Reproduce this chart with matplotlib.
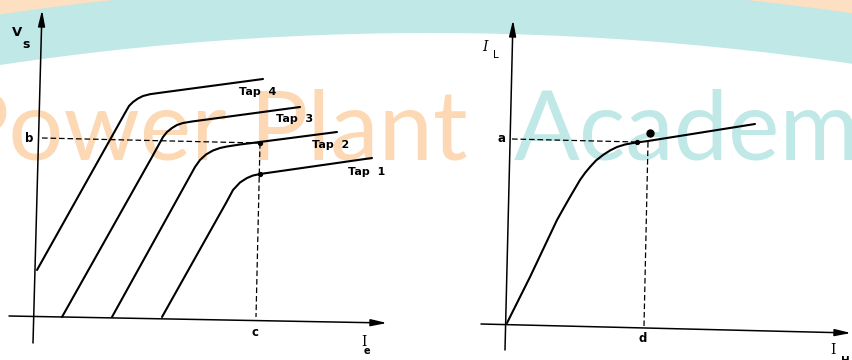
import matplotlib
matplotlib.use("Agg")
import matplotlib.pyplot as plt
from matplotlib.patches import Circle, Rectangle

# ---------------- data (units: 1 unit = 10 px of the original drawing) ----------------
# Left panel: secondary voltage V_s vs excitation current I_e, one curve per tap
tap4_ie = [0.1, 8.9, 9.3, 9.7, 10.2, 10.7, 11.4, 12.4, 22.7]
tap4_vs = [4.7, 20.4, 21.1, 21.5, 21.85, 22.1, 22.28, 22.42, 23.8]
tap3_ie = [2.6, 11.6, 12.7, 13.1, 13.6, 14.1, 14.7, 15.6, 26.4]
tap3_vs = [0.0, 16.0, 18.0, 18.5, 18.9, 19.2, 19.4, 19.55, 21.0]
tap2_ie = [7.6, 15.9, 16.4, 17.0, 17.7, 18.4, 19.1, 20.4, 21.6, 30.1]
tap2_vs = [0.0, 15.0, 15.7, 16.25, 16.65, 16.9, 17.05, 17.25, 17.4, 18.5]
tap1_ie = [12.6, 18.1, 19.0, 19.7, 20.4, 21.1, 21.7, 22.4, 33.6]
tap1_vs = [0.0, 9.8, 11.4, 12.7, 13.45, 13.9, 14.15, 14.3, 15.9]
tap_labels = ["Tap  4", "Tap  3", "Tap  2", "Tap  1"]
tap_label_x = [22.2, 25.9, 29.5, 33.1]
tap_label_y = [22.5, 19.8, 17.2, 14.5]

# reference point: b on the V_s axis, c on the I_e axis
b_line_x = [0.6, 22.2]
b_line_y = [17.9, 17.4]
c_line_x = [22.4, 22.0]
c_line_y = [17.4, 0.0]
left_marks_x = [22.4, 22.4]
left_marks_y = [17.4, 14.3]

# Right panel: I_L vs I_H
il_ih = [0.0, 2.3, 5.0, 5.7, 6.3, 6.8, 7.3, 7.8, 8.3, 8.9, 9.6, 10.3, 11.0, 11.8, 12.6, 14.1, 24.8]
il_il = [0.1, 4.7, 10.4, 11.65, 12.7, 13.55, 14.4, 15.1, 15.7, 16.35, 16.9, 17.35, 17.7, 17.95, 18.1, 18.3, 20.0]
a_line_x = [0.5, 13.0]
a_line_y = [18.5, 18.2]
d_line_x = [14.1, 13.7]
d_line_y = [18.2, -0.2]
dot_x, dot_y = [14.3], [19.1]
junc_x, junc_y = [13.0], [18.2]

# axes (slightly tilted as in the scanned drawing)
left_xaxis = [(-2.7, 0.1), (35.1, -0.6)]
left_yaxis = [(-0.3, -2.6), (0.6, 30.7)]
right_xaxis = [(-2.6, 0.0), (34.4, -0.9)]
right_yaxis = [(-0.2, -2.6), (0.6, 30.4)]

# ---------------- figure ----------------
W, H = 853, 360
fig = plt.figure(figsize=(W / 100, H / 100), dpi=100)
fig.patch.set_facecolor("white")

# background watermark
bg = fig.add_axes([0, 0, 1, 1], zorder=0)
bg.set_xlim(0, W)
bg.set_ylim(H, 0)
bg.axis("off")
bg.add_patch(Rectangle((0, 0), W, H, color="#FDDFC2", lw=0))
bg.add_patch(Circle((430, 2938), 2955, color="#BFE8E6", lw=0))
bg.add_patch(Circle((430, 2938), 2905, color="white", lw=0))
wm_font = dict(family="Lato", weight="normal", fontsize=70)
bg.text(227, 160, "Power", color="#FDD8B4", ha="right", va="baseline", **wm_font)
bg.text(249, 160, "Plant", color="#FDD8B4", ha="left", va="baseline", **wm_font)
bg.text(514, 160, "Academy", color="#C0E8E7", ha="left", va="baseline", **wm_font)

def make_ax(rect, xlim, ylim):
    ax = fig.add_axes(rect, zorder=2)
    ax.set_xlim(*xlim)
    ax.set_ylim(*ylim)
    ax.axis("off")
    ax.patch.set_visible(False)
    return ax

axL = make_ax([0, 0, 430 / W, 1], (-3.6, 39.4), (-4.3, 31.7))
axR = make_ax([430 / W, 0, 423 / W, 1], (-7.7, 34.6), (-3.6, 32.4))

arrow_style = "-|>,head_length=0.6,head_width=0.13"

def draw_axis(ax, seg):
    (x0, y0), (x1, y1) = seg
    ax.annotate("", xy=(x1, y1), xytext=(x0, y0),
                arrowprops=dict(arrowstyle=arrow_style, lw=1.1, color="black",
                                mutation_scale=16, shrinkA=0, shrinkB=0),
                annotation_clip=False)

curve_kw = dict(color="black", lw=1.5, solid_capstyle="round", solid_joinstyle="round")
dash_kw = dict(color="black", lw=0.9, linestyle=(0, (4.5, 2.3)))
lab_kw = dict(fontsize=8, fontweight="bold", ha="center", va="center", color="black")

# left panel
draw_axis(axL, left_xaxis)
draw_axis(axL, left_yaxis)
for xs, ys in [(tap4_ie, tap4_vs), (tap3_ie, tap3_vs), (tap2_ie, tap2_vs), (tap1_ie, tap1_vs)]:
    axL.plot(xs, ys, **curve_kw)
axL.plot(b_line_x, b_line_y, **dash_kw)
axL.plot(c_line_x, c_line_y, **dash_kw)
axL.plot(left_marks_x, left_marks_y, "o", color="black", ms=2.8, ls="none")
for lab, x, y in zip(tap_labels, tap_label_x, tap_label_y):
    axL.text(x, y, lab, **lab_kw)
axL.text(-0.7, 17.8, "b", fontsize=8.5, fontweight="bold", ha="center", va="center")
axL.text(21.9, -1.5, "c", fontsize=8.5, fontweight="bold", ha="center", va="center")
axL.text(-1.9, 28.4, "V", fontsize=9.5, fontweight="bold", ha="center", va="center")
axL.text(-1.0, 27.3, "s", fontsize=9, fontweight="bold", ha="center", va="center")
axL.text(32.8, -2.5, "I", fontsize=10, family="DejaVu Serif", ha="center", va="center")
axL.text(33.1, -3.4, "e", fontsize=7, fontweight="bold", ha="center", va="center")

# right panel
draw_axis(axR, right_xaxis)
draw_axis(axR, right_yaxis)
axR.plot(il_ih, il_il, **curve_kw)
axR.plot(a_line_x, a_line_y, **dash_kw)
axR.plot(d_line_x, d_line_y, **dash_kw)
axR.plot(dot_x, dot_y, "o", color="black", ms=5, ls="none")
axR.plot(junc_x, junc_y, "o", color="black", ms=2.8, ls="none")
axR.text(-0.5, 18.5, "a", fontsize=8.5, fontweight="bold", ha="center", va="center")
axR.text(13.6, -1.4, "d", fontsize=8.5, fontweight="bold", ha="center", va="center")
axR.text(-2.2, 27.7, "I", fontsize=10, family="DejaVu Serif", style="italic", ha="center", va="center")
axR.text(-1.1, 26.9, "L", fontsize=7.5, ha="center", va="center")
axR.text(32.6, -2.6, "I", fontsize=10, family="DejaVu Serif", ha="center", va="center")
axR.text(33.8, -3.7, "H", fontsize=7.5, fontweight="bold", ha="center", va="center")

fig.savefig("out.png", dpi=100)
